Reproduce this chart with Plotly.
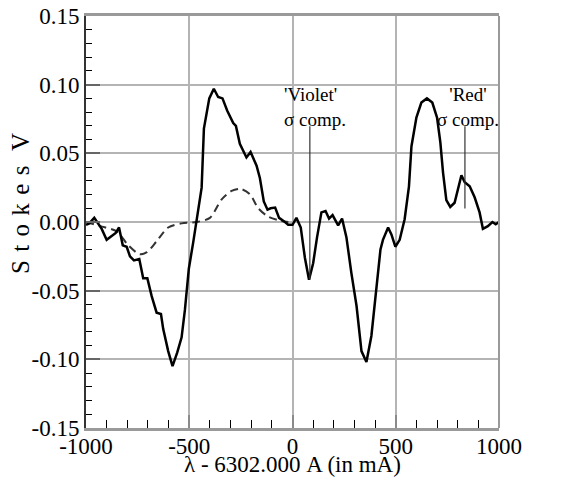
import plotly.graph_objects as go

# ---- data ----
wave_obs = [-1000, -984, -960, -939, -924, -900, -876, -856, -840, -822, -803, -787, -768, -742,
            -723, -703, -682, -658, -637, -626, -602, -581, -558, -537, -521, -502, -481, -464,
            -440, -429, -403, -381, -360, -339, -316, -287, -274, -255, -223, -203, -174, -158,
            -139, -121, -106, -84, -65, -45, -21, 0, 19, 40, 60, 80, 100, 119, 140, 160, 177,
            194, 221, 240, 261, 285, 310, 334, 358, 382, 406, 426, 438, 463, 479, 498, 519, 543,
            564, 576, 600, 624, 651, 677, 700, 716, 729, 745, 764, 785, 818, 834, 858, 882, 906,
            922, 946, 968, 984, 1000]
stokes_obs = [-0.002, -0.001, 0.003, -0.002, -0.005, -0.013, -0.010, -0.008, -0.004, -0.017,
              -0.018, -0.025, -0.028, -0.027, -0.041, -0.041, -0.054, -0.066, -0.067, -0.078,
              -0.094, -0.105, -0.095, -0.084, -0.064, -0.034, -0.015, 0.002, 0.025, 0.068,
              0.090, 0.097, 0.091, 0.090, 0.081, 0.072, 0.070, 0.057, 0.047, 0.051, 0.041,
              0.032, 0.015, 0.009, 0.010, 0.0105, 0.003, 0.001, -0.002, -0.002, 0.003, -0.004,
              -0.026, -0.042, -0.030, -0.011, 0.007, 0.008, 0.0025, 0.005, -0.0025, 0.0025,
              -0.011, -0.037, -0.061, -0.094, -0.102, -0.083, -0.049, -0.020, -0.013, -0.004,
              -0.009, -0.018, -0.013, 0.002, 0.026, 0.055, 0.076, 0.087, 0.090, 0.087, 0.076,
              0.058, 0.036, 0.016, 0.011, 0.014, 0.034, 0.029, 0.026, 0.018, 0.007, -0.005,
              -0.003, 0.000, -0.0017, 0.000]
assert len(wave_obs) == len(stokes_obs)

wave_model = [-1000, -930, -850, -795, -740, -705, -658, -602, -537, -464, -400, -343, -295,
              -250, -205, -166, -118, -61, -20]
stokes_model = [0.0, -0.003, -0.007, -0.017, -0.0235, -0.022, -0.014, -0.004, -0.001, 0.000,
                0.003, 0.0165, 0.0226, 0.024, 0.020, 0.010, 0.004, 0.001, 0.000]
assert len(wave_model) == len(stokes_model)

x_ticks = [-1000, -500, 0, 500, 1000]
x_tick_labels = ["-1000", "-500", "0", "500", "1000"]
y_ticks = [-0.15, -0.10, -0.05, 0.00, 0.05, 0.10, 0.15]
y_tick_labels = ["-0.15", "-0.10", "-0.05", "0.00", "0.05", "0.10", "0.15"]

x_title = "λ - 6302.000 A (in mA)"
_gap = "\u00a0\u200a"
y_title = _gap.join("Stokes") + _gap + "\u00a0V"

violet_label = "'Violet'<br>σ comp."
violet_label_pos = (-52, 0.084)
violet_pointer = (84, 0.0698, -0.0418)
red_label = "'Red'<br>σ comp."
red_label_pos = (850, 0.084)
red_pointer = (835, 0.0698, 0.0098)

FONT = "Liberation Serif"
FS = 23

fig = go.Figure()
fig.add_trace(go.Scatter(x=wave_model, y=stokes_model, mode="lines",
                         line=dict(color="#333333", width=2, dash="8px,5px", shape="spline",
                                   smoothing=0.8),
                         showlegend=False, hoverinfo="skip"))
fig.add_trace(go.Scatter(x=wave_obs, y=stokes_obs, mode="lines",
                         line=dict(color="black", width=2.5),
                         showlegend=False))

for (xp, y0, y1) in (violet_pointer, red_pointer):
    fig.add_shape(type="line", xref="x", yref="y", x0=xp, x1=xp, y0=y0, y1=y1,
                  line=dict(color="#333333", width=1.2))

fig.add_annotation(x=violet_label_pos[0], y=violet_label_pos[1], xref="x", yref="y",
                   text=violet_label, showarrow=False, xanchor="left", yanchor="middle",
                   align="left", font=dict(family=FONT, size=19, color="black"))
fig.add_annotation(x=red_label_pos[0], y=red_label_pos[1], xref="x", yref="y",
                   text=red_label, showarrow=False, xanchor="center", yanchor="middle",
                   align="center", font=dict(family=FONT, size=19, color="black"))

# axis titles
fig.add_annotation(x=0.5, y=0, xref="paper", yref="paper", text=x_title, showarrow=False,
                   xanchor="center", yanchor="middle", yshift=-36,
                   font=dict(family=FONT, size=FS, color="black"))
fig.add_annotation(x=0, y=0.5, xref="paper", yref="paper", text=y_title, showarrow=False,
                   xanchor="center", yanchor="middle", xshift=-66, yshift=18, textangle=-90,
                   font=dict(family=FONT, size=25, color="black"))

fig.update_layout(
    width=568, height=472,
    margin=dict(l=78, r=77, t=8, b=52, autoexpand=False),
    paper_bgcolor="white", plot_bgcolor="white",
    font=dict(family=FONT, size=FS, color="black"),
    xaxis=dict(
        range=[-1000, 1000], automargin=False,
        tickvals=x_ticks, ticktext=x_tick_labels,
        showgrid=True, gridcolor="#b4b4b4", gridwidth=1.5,
        zeroline=False,
        showline=True, linecolor="#9a9a9a", linewidth=2.5, mirror=True,
        ticks="inside", ticklen=13, tickwidth=2, tickcolor="#8a8a8a",
        minor=dict(dtick=100, ticks="inside", ticklen=8, tickwidth=1.3, tickcolor="black",
                   showgrid=False),
        tickfont=dict(family=FONT, size=FS),
        ticklabelstandoff=-4, ticklabeloverflow="allow",
    ),
    yaxis=dict(
        range=[-0.15, 0.15], automargin=False,
        tickvals=y_ticks, ticktext=y_tick_labels,
        showgrid=True, gridcolor="#b4b4b4", gridwidth=1.5,
        zeroline=False,
        showline=True, linecolor="#333333", linewidth=2,
        ticks="inside", ticklen=14, tickwidth=2, tickcolor="#666666",
        minor=dict(dtick=0.01, ticks="inside", ticklen=6, tickwidth=1.3, tickcolor="black",
                   showgrid=False),
        tickfont=dict(family=FONT, size=FS),
        ticklabeloverflow="allow",
    ),
)
# right frame line
fig.add_shape(type="line", xref="paper", yref="paper", x0=1, x1=1, y0=0, y1=1,
              line=dict(color="#9a9a9a", width=2))

fig.write_html("out.html")
